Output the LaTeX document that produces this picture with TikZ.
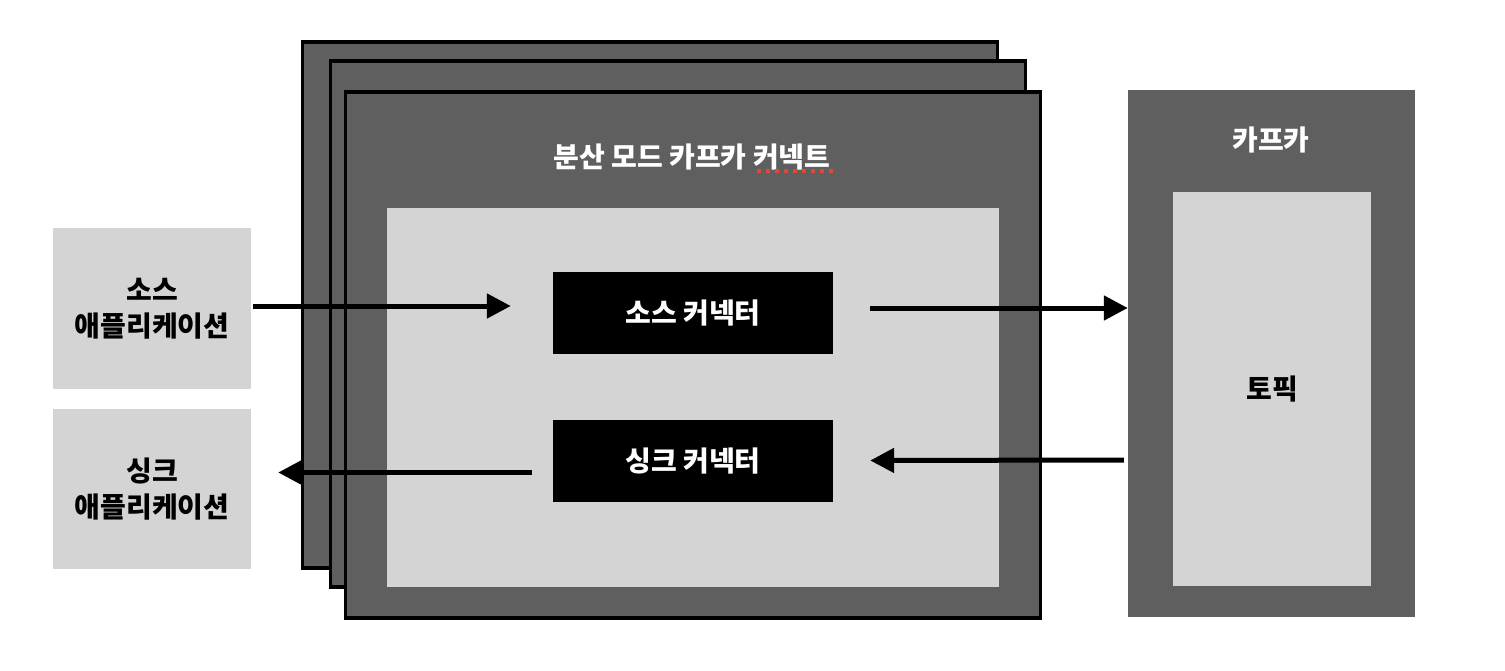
\documentclass[tikz,border=0pt]{standalone}
\usepackage{fontspec}
\newfontfamily\krfont{Noto Sans CJK KR}
\usepackage{tikz}
\usetikzlibrary{arrows.meta, positioning, calc}

\definecolor{darkbox}{HTML}{5F5F5F}
\definecolor{lightbox}{HTML}{D4D4D4}
\definecolor{spellred}{HTML}{E0463A}

\begin{document}
\begin{tikzpicture}[
    x=1pt, y=-1pt,
    worker/.style={rectangle, draw=black, fill=darkbox, line width=3.5pt, minimum width=695pt, minimum height=526pt, inner sep=0pt},
    panel/.style={rectangle, fill=lightbox, inner sep=0pt},
    connector/.style={rectangle, fill=black, minimum width=280pt, minimum height=82pt, inner sep=0pt, text=white, font=\krfont\bfseries\fontsize{28}{35}\selectfont},
    appbox/.style={rectangle, fill=lightbox, minimum width=198pt, minimum height=160pt, inner sep=0pt, align=center, font=\krfont\bfseries\fontsize{28}{36}\selectfont},
    title/.style={font=\krfont\bfseries\fontsize{28}{35}\selectfont, text=white},
    arrow/.style={-{Triangle[length=24pt, width=24pt]}, line width=5pt}
]

\useasboundingbox (0,0) rectangle (1505,671);

% CONNECT CLUSTER (three stacked workers)
\node[worker] (worker3) at (650,305) {};
\node[worker] (worker2) at (678,324) {};
\node[worker] (worker1) at (693,355) {};
\node[title] (cluster_title) at (692,157) {분산 모드 카프카 커넥트};
\draw[spellred, line width=3.5pt, dash pattern=on 4pt off 5pt] (757,171) -- (833,171);

% Inner area with the two connectors
\node[panel, minimum width=612pt, minimum height=379pt] (inner) at (693,397.5) {};
\node[connector] (src_con) at (693,313) {소스 커넥터};
\node[connector] (sink_con) at (693,461) {싱크 커넥터};

% APPLICATIONS
\node[appbox] (src_app) at (152,308.5) {소스\\애플리케이션};
\node[appbox] (sink_app) at (152,489) {싱크\\애플리케이션};

% KAFKA
\node[rectangle, fill=darkbox, minimum width=287pt, minimum height=527pt, inner sep=0pt] (kafka) at (1271.5,353.5) {};
\node[title] (kafka_title) at (1271,140) {카프카};
\node[panel, minimum width=198pt, minimum height=394pt, font=\krfont\bfseries\fontsize{28}{35}\selectfont] (topic) at (1272,389) {토픽};

% ARROWS
\draw[arrow] ([shift={(2,-2.5)}]src_app.east) -- ([shift={(-42,-7)}]src_con.west);
\draw[arrow] ([shift={(37,-5)}]src_con.east) -- ([shift={(0,-45.5)}]kafka.west);
\draw[arrow] ([shift={(-4,106.5)}]kafka.west) -- ([shift={(37,-0.5)}]sink_con.east);
\draw[arrow] ([shift={(-21,11.5)}]sink_con.west) -- ([shift={(27,-16.5)}]sink_app.east);

\end{tikzpicture}
\end{document}
